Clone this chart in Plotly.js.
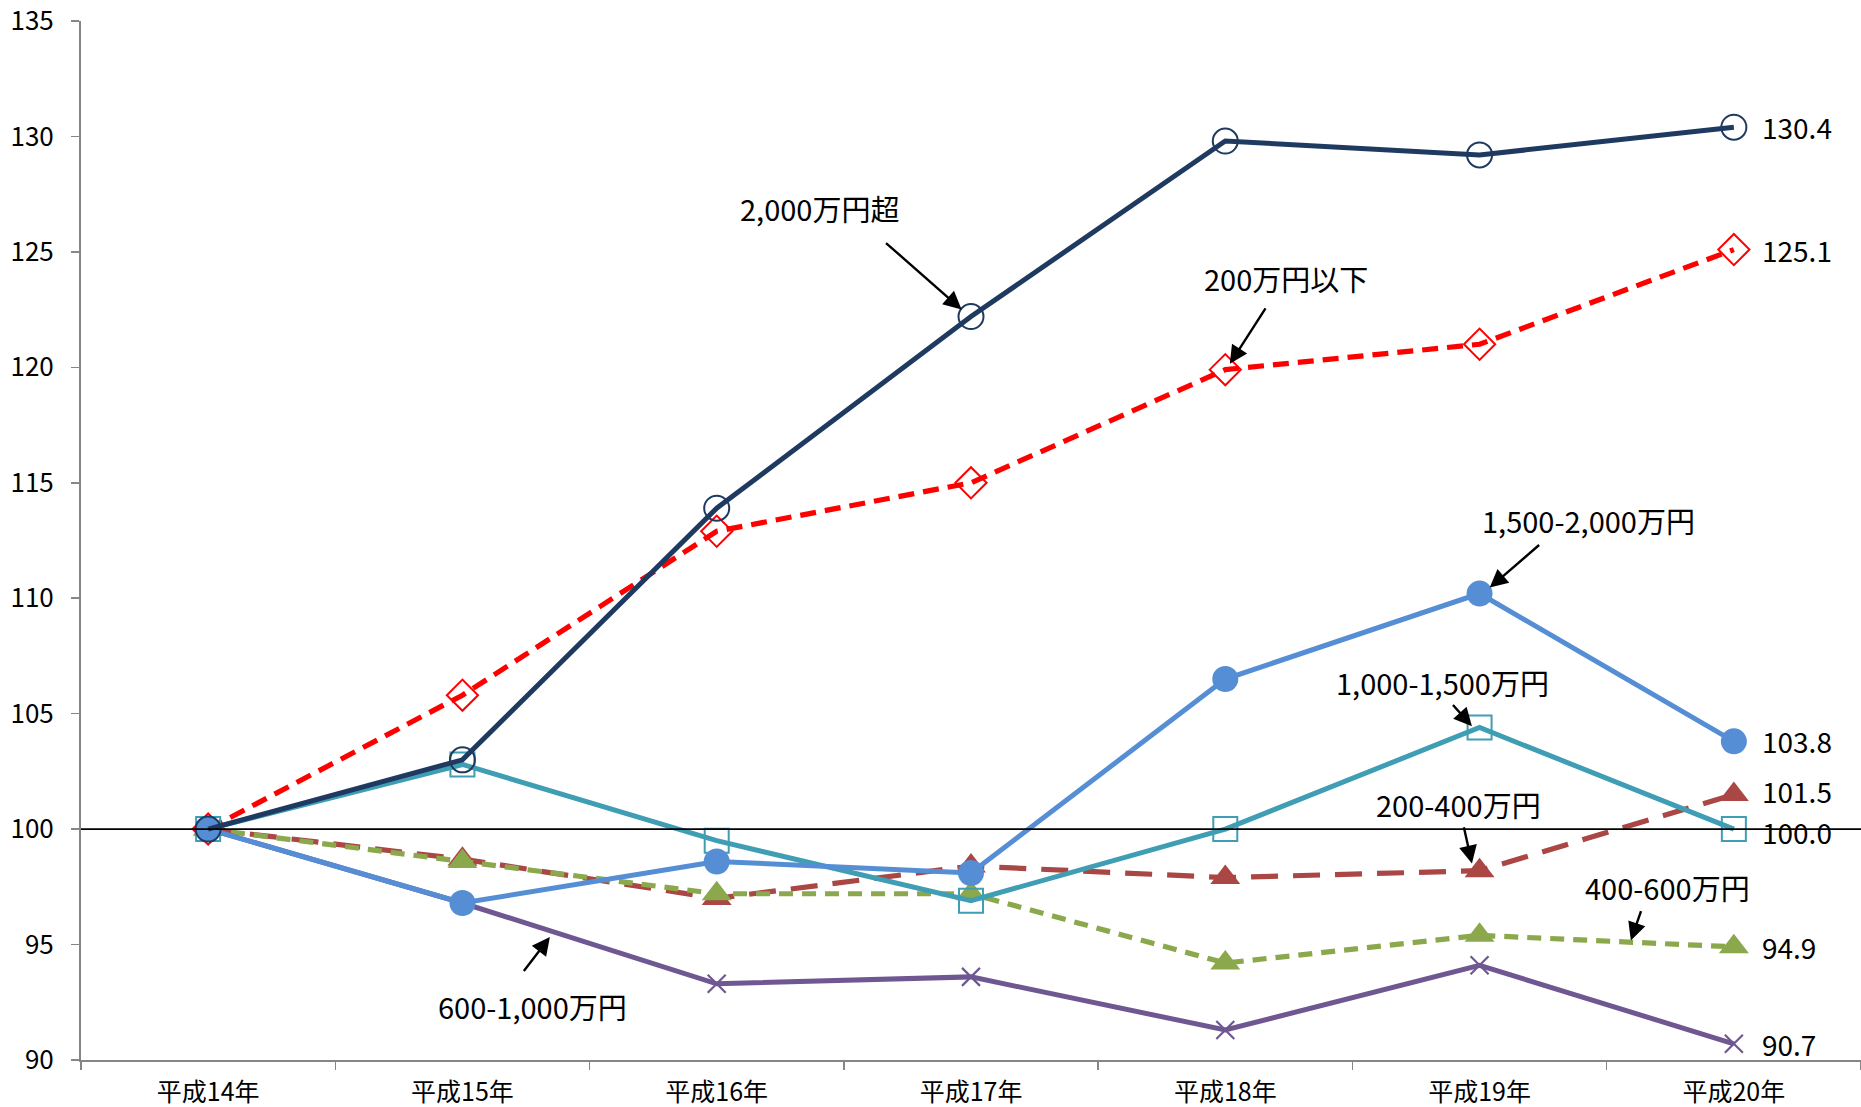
<!DOCTYPE html>
<html>
<head>
<meta charset="utf-8">
<script src="https://cdn.plot.ly/plotly-3.0.1.min.js"></script>
<style>
html,body{margin:0;padding:0;background:#fff;}
#chart{width:1861px;height:1107px;}
</style>
</head>
<body>
<div id="chart"></div>
<script>
// ---- data ----
const years = ["平成14年","平成15年","平成16年","平成17年","平成18年","平成19年","平成20年"];

const over2000   = [100, 103.0, 113.9, 122.2, 129.8, 129.2, 130.4];
const under200   = [100, 105.8, 112.9, 115.0, 119.9, 121.0, 125.1];
const r1500_2000 = [100, 96.8, 98.6, 98.1, 106.5, 110.2, 103.8];
const r1000_1500 = [100, 102.8, 99.5, 96.9, 100.0, 104.4, 100.0];
const r200_400   = [100, 98.7, 97.0, 98.4, 97.9, 98.2, 101.5];
const r400_600   = [100, 98.6, 97.2, 97.2, 94.2, 95.4, 94.9];
const r600_1000  = [100, 96.8, 93.3, 93.6, 91.3, 94.1, 90.7];

const seriesNames = ["200万円以下","200-400万円","400-600万円","600-1,000万円","1,000-1,500万円","1,500-2,000万円","2,000万円超"];

const yTicks = [90, 95, 100, 105, 110, 115, 120, 125, 130, 135];

// ---- styles ----
const FONT = "'Noto Sans CJK JP', 'Noto Sans', sans-serif";

function mk(name, vals, color, dash, width, marker){
  return {
    type: "scatter",
    mode: "lines+markers",
    name: name,
    x: years,
    y: vals,
    line: {color: color, width: width, dash: dash},
    marker: marker,
    cliponaxis: false,
    hoverinfo: "x+y+name"
  };
}

const allSeries = [under200, r200_400, r400_600, r600_1000, r1000_1500, r1500_2000, over2000];
// small vertical nudges (px) so that close end labels do not collide
const endShift = [0, 3, 0, 0, -3, 0, 0];

const traces = [
  mk(seriesNames[0], under200, "#FF0000", "16px,9px", 5.2,
     {symbol: "diamond-open", size: 24, color: "#FF0000", line: {width: 2, color: "#FF0000"}}),
  mk(seriesNames[1], r200_400, "#AA4643", "27px,15px", 5.2,
     {symbol: "triangle-up", size: 26, color: "#AA4643"}),
  mk(seriesNames[2], r400_600, "#8CA84C", "14px,9px", 5.2,
     {symbol: "triangle-up", size: 26, color: "#8CA84C"}),
  mk(seriesNames[3], r600_1000, "#6F5792", "solid", 5,
     {symbol: "x-thin-open", size: 18, color: "#6F5792", line: {width: 2.2, color: "#6F5792"}}),
  mk(seriesNames[4], r1000_1500, "#3F9DB4", "solid", 5,
     {symbol: "square-open", size: 24, color: "#3F9DB4", line: {width: 2, color: "#3F9DB4"}}),
  mk(seriesNames[5], r1500_2000, "#558ED5", "solid", 5,
     {symbol: "circle", size: 26, color: "#558ED5"}),
  mk(seriesNames[6], over2000, "#1F3A60", "solid", 5,
     {symbol: "circle-open", size: 25, color: "#1F3A60", line: {width: 2, color: "#1F3A60"}})
];

// labels with arrows: [text, textX, textY, tailX, tailY, tipX, tipY]
const labels = [
  ["2,000万円超",     2.403, 126.92, 2.66, 125.44, 2.963, 122.51],
  ["200万円以下",     4.237, 123.85, 4.162, 122.62, 4.018, 120.15],
  ["1,500-2,000万円", 5.427, 113.38, 5.24, 112.36, 5.04, 110.46],
  ["1,000-1,500万円", 4.853, 106.36, 4.89, 105.44, 4.97, 104.46],
  ["200-400万円",     4.918, 101.08, 4.937, 100.15, 4.97, 98.51],
  ["400-600万円",     5.74,  97.49, 5.637, 96.51, 5.595, 95.18],
  ["600-1,000万円",   1.274, 92.36, 1.237, 93.79, 1.344, 95.33]
];

const annotations = [];
labels.forEach(l => {
  annotations.push({
    x: l[1], y: l[2], xref: "x", yref: "y", text: l[0], showarrow: false,
    font: {family: FONT, size: 29, color: "#000"}, xanchor: "center", yanchor: "middle"
  });
  annotations.push({
    x: l[5], y: l[6], xref: "x", yref: "y", ax: l[3], ay: l[4], axref: "x", ayref: "y",
    text: "", showarrow: true, arrowhead: 2, arrowsize: 1.5, arrowwidth: 2.4, arrowcolor: "#000",
    standoff: 0, startstandoff: 0
  });
});

// end-value labels from the data
const last = years.length - 1;
allSeries.forEach((vals, i) => {
  annotations.push({
    x: last, y: vals[last], xref: "x", yref: "y", text: vals[last].toFixed(1),
    showarrow: false, xanchor: "left", yanchor: "middle", xshift: 26, yshift: endShift[i],
    font: {family: FONT, size: 28, color: "#000"}
  });
});

const layout = {
  width: 1861, height: 1107,
  margin: {l: 81, r: 0, t: 21, b: 47},
  paper_bgcolor: "#fff", plot_bgcolor: "#fff",
  showlegend: false,
  font: {family: FONT, size: 26, color: "#000"},
  xaxis: {
    type: "category",
    range: [-0.5, 6.5],
    tickson: "boundaries",
    ticks: "outside", ticklen: 8, tickwidth: 1.5, tickcolor: "#868686",
    showline: true, linecolor: "#868686", linewidth: 2,
    showgrid: false, zeroline: false,
    tickfont: {family: FONT, size: 25, color: "#000"},
    ticklabelstandoff: 9
  },
  yaxis: {
    range: [90, 135],
    tickvals: yTicks,
    ticktext: yTicks.map(String),
    ticks: "outside", ticklen: 8, tickwidth: 1.5, tickcolor: "#868686",
    showline: true, linecolor: "#868686", linewidth: 2,
    showgrid: false, zeroline: false,
    tickfont: {family: FONT, size: 26, color: "#000"},
    ticklabelstandoff: 12
  },
  shapes: [{
    type: "line", xref: "paper", yref: "y", x0: 0, x1: 1, y0: 100, y1: 100,
    line: {color: "#000", width: 1.6}, layer: "above"
  }],
  annotations: annotations
};

Plotly.newPlot("chart", traces, layout, {displayModeBar: false, staticPlot: true});
</script>
</body>
</html>
